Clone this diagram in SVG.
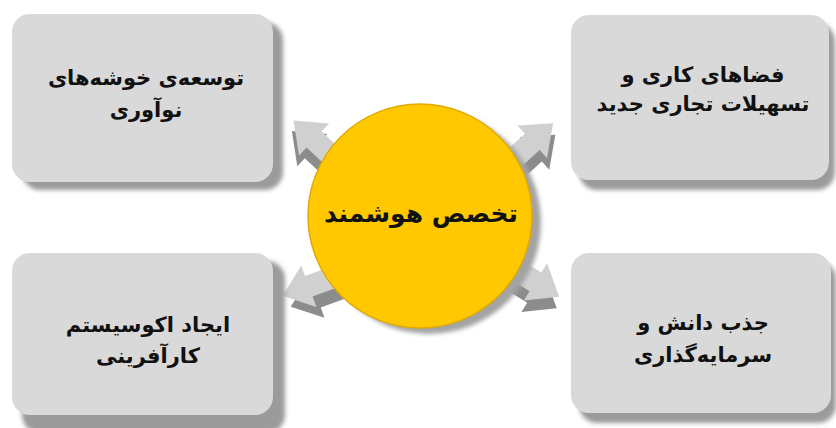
<svg xmlns="http://www.w3.org/2000/svg" width="836" height="428" viewBox="0 0 836 428">
  <defs>
    <filter id="blur" x="-10%" y="-10%" width="120%" height="120%">
      <feGaussianBlur stdDeviation="2"/>
    </filter>
    <path id="arr" d="M0,-11 L30,-11 L30,-22 L58,0 L30,22 L30,11 L0,11 Z"/>
  </defs>
  <style>
    .box{fill:#d9d9d9;}
    .bshadow{fill:#9b9b9b;filter:url(#blur);}
    .lbl{font-family:"DejaVu Sans",sans-serif;font-weight:bold;font-size:21px;fill:#111;text-anchor:middle;}
    .ctr{font-family:"DejaVu Sans",sans-serif;font-weight:bold;font-size:25px;fill:#111;text-anchor:middle;}
    .alight{fill:#d0d0d0;}
    .adark{fill:#8c8c8c;}
  </style>
  <rect width="836" height="428" fill="#ffffff"/>

  <g id="connectors">
    <g transform="translate(336,160) rotate(-137)">
      <use href="#arr" class="adark" transform="translate(-6,-9)"/>
      <use href="#arr" class="alight"/>
    </g>
    <g transform="translate(510,162) rotate(-42)">
      <use href="#arr" class="adark" transform="translate(-6,10)"/>
      <use href="#arr" class="alight"/>
    </g>
    <g transform="translate(337,276) rotate(160)">
      <use href="#arr" class="adark" transform="translate(-4,-13)"/>
      <use href="#arr" class="alight"/>
    </g>
    <g transform="translate(510,266) rotate(32)">
      <use href="#arr" class="adark" transform="translate(4,11)"/>
      <use href="#arr" class="alight"/>
    </g>
  </g>

  <g id="node-center">
    <circle cx="429" cy="222" r="112" fill="#a3a3a3" filter="url(#blur)"/>
    <circle cx="420" cy="216" r="112" fill="#ffc800" stroke="#e0ac00" stroke-width="1.5"/>
    <text class="ctr" x="421" y="222">تخصص هوشمند</text>
  </g>

  <g id="node-tl">
    <rect class="bshadow" x="22" y="22" width="261" height="168" rx="18"/>
    <rect class="box" x="12" y="14" width="261" height="168" rx="18"/>
    <text class="lbl" x="146" y="85">توسعه‌ی خوشه‌های</text>
    <text class="lbl" x="146" y="117">نوآوری</text>
  </g>

  <g id="node-tr">
    <rect class="bshadow" x="579" y="23" width="256" height="167" rx="18"/>
    <rect class="box" x="571" y="15" width="258" height="165" rx="18"/>
    <text class="lbl" x="703" y="82">فضاهای کاری و</text>
    <text class="lbl" x="703" y="111">تسهیلات تجاری جدید</text>
  </g>

  <g id="node-bl">
    <rect class="bshadow" x="22" y="261" width="263" height="172" rx="18"/>
    <rect class="box" x="12" y="253" width="261" height="162" rx="18"/>
    <text class="lbl" x="148" y="332">ایجاد اکوسیستم</text>
    <text class="lbl" x="148" y="363">کارآفرینی</text>
  </g>

  <g id="node-br">
    <rect class="bshadow" x="579" y="261" width="257" height="162" rx="18"/>
    <rect class="box" x="571" y="253" width="260" height="160" rx="18"/>
    <text class="lbl" x="703" y="330">جذب دانش و</text>
    <text class="lbl" x="703" y="362">سرمایه‌گذاری</text>
  </g>
</svg>
